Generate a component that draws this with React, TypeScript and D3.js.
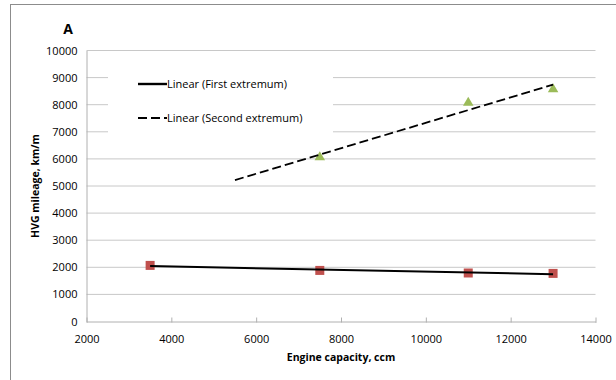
import { useEffect, useRef } from 'react';
import * as d3 from 'd3';

const W = 616;
const H = 380;

// first extremum (red squares)
const firstX = [3500, 7500, 11000, 13000];
const firstY = [2070, 1885, 1790, 1775];
// second extremum (green triangles)
const secondX = [7500, 11000, 13000];
const secondY = [6060, 8070, 8570];

const xTicks = [2000, 4000, 6000, 8000, 10000, 12000, 14000];
const yTicks = [0, 1000, 2000, 3000, 4000, 5000, 6000, 7000, 8000, 9000, 10000];

const legendLabels = ['Linear (First extremum)', 'Linear (Second extremum)'];

// least squares fit, like Excel's linear trendline
function fit(xs: number[], ys: number[]) {
  const mx = d3.mean(xs)!;
  const my = d3.mean(ys)!;
  const sxy = d3.sum(xs, (x, i) => (x - mx) * (ys[i] - my));
  const sxx = d3.sum(xs, (x) => (x - mx) * (x - mx));
  const b = sxy / sxx;
  return (x: number) => my + b * (x - mx);
}

const FONT = "'Open Sans', 'Noto Sans', sans-serif";

export default function App() {
  const ref = useRef<SVGSVGElement | null>(null);
  useEffect(() => {
    const svg = d3.select(ref.current!);
    svg.selectAll('*').remove();

    const x = d3.scaleLinear().domain([2000, 14000]).range([86.5, 595.5]);
    const y = d3.scaleLinear().domain([0, 10000]).range([321.5, 50.5]);

    svg.append('rect').attr('width', W).attr('height', H).attr('fill', '#fff');
    svg.append('rect').attr('x', 10.5).attr('y', 4.5).attr('width', W + 20).attr('height', H + 20)
      .attr('fill', 'none').attr('stroke', '#8c8c8c');

    // gridlines
    svg.append('g').selectAll('line').data(yTicks.filter((t) => t > 0)).enter().append('line')
      .attr('x1', x(2000)).attr('x2', x(14000))
      .attr('y1', (d) => y(d)).attr('y2', (d) => y(d))
      .attr('stroke', '#c8c8c8');

    // x axis, small ticks pointing up into the plot
    const xa = svg.append('g').attr('transform', `translate(0,${y(0)})`)
      .call(d3.axisBottom(x).tickValues(xTicks).tickFormat(d3.format('d')).tickSize(1).tickPadding(13));
    xa.select('.domain').attr('stroke', '#b0b0b0');
    xa.selectAll('.tick line').attr('stroke', '#b0b0b0').attr('y1', -4).attr('y2', 1);
    xa.selectAll('text').attr('font-size', 11).attr('fill', '#000').attr('font-family', FONT);

    // y axis
    const ya = svg.append('g').attr('transform', `translate(${x(2000)},0)`)
      .call(d3.axisLeft(y).tickValues(yTicks).tickFormat(d3.format('d')).tickSize(0).tickPadding(9));
    ya.select('.domain').attr('stroke', '#b0b0b0');
    ya.selectAll('text').attr('font-size', 11).attr('fill', '#000').attr('font-family', FONT);

    // legend (white box hides gridlines)
    svg.append('rect').attr('x', 108).attr('y', 66).attr('width', 225).attr('height', 74).attr('fill', '#fff');
    const lg = svg.append('g');
    legendLabels.forEach((lab, i) => {
      const ly = 84 + i * 34;
      lg.append('line').attr('x1', 138).attr('x2', 167).attr('y1', ly).attr('y2', ly)
        .attr('stroke', '#000').attr('stroke-width', i === 0 ? 2.4 : 1.8)
        .attr('stroke-dasharray', i === 0 ? null : '9,4');
      lg.append('text').attr('x', 167).attr('y', ly).attr('dy', '0.35em')
        .attr('font-size', 11).attr('font-family', FONT).text(lab);
    });

    // markers
    svg.append('g').selectAll('rect').data(firstX).enter().append('rect')
      .attr('x', (d) => x(d) - 4.5).attr('y', (_, i) => y(firstY[i]) - 4.5)
      .attr('width', 9).attr('height', 9).attr('fill', '#c0504d');
    const tri = d3.symbol().type(d3.symbolTriangle).size(48);
    svg.append('g').selectAll('path').data(secondX).enter().append('path')
      .attr('transform', (d, i) => `translate(${x(d)},${y(secondY[i])})`)
      .attr('d', tri()!).attr('fill', '#9bbb59');

    // trendlines
    const f1 = fit(firstX, firstY);
    const f2 = fit(secondX, secondY);
    const line = d3.line<number[]>().x((d) => x(d[0])).y((d) => y(d[1]));
    svg.append('path').attr('d', line([[3500, f1(3500)], [13000, f1(13000)]]))
      .attr('stroke', '#000').attr('stroke-width', 2).attr('fill', 'none');
    svg.append('path').attr('d', line([[5500, f2(5500)], [13000, f2(13000)]]))
      .attr('stroke', '#000').attr('stroke-width', 1.8).attr('stroke-dasharray', '9,4').attr('fill', 'none');

    // titles
    svg.append('text').attr('x', 68).attr('y', 34).attr('text-anchor', 'middle')
      .attr('font-size', 14).attr('font-weight', 'bold').attr('font-family', FONT).text('A');
    svg.append('text').attr('x', x(8000)).attr('y', 361).attr('text-anchor', 'middle')
      .attr('font-size', 10.5).attr('font-weight', 'bold').attr('font-family', FONT).text('Engine capacity, ccm');
    svg.append('text').attr('transform', `translate(39,${y(5000)}) rotate(-90)`).attr('text-anchor', 'middle')
      .attr('font-size', 10.5).attr('font-weight', 'bold').attr('font-family', FONT).text('HVG mileage, km/m');
  }, []);
  return <svg ref={ref} width={W} height={H} style={{ position: 'absolute', left: 0, top: 0 }} />;
}
